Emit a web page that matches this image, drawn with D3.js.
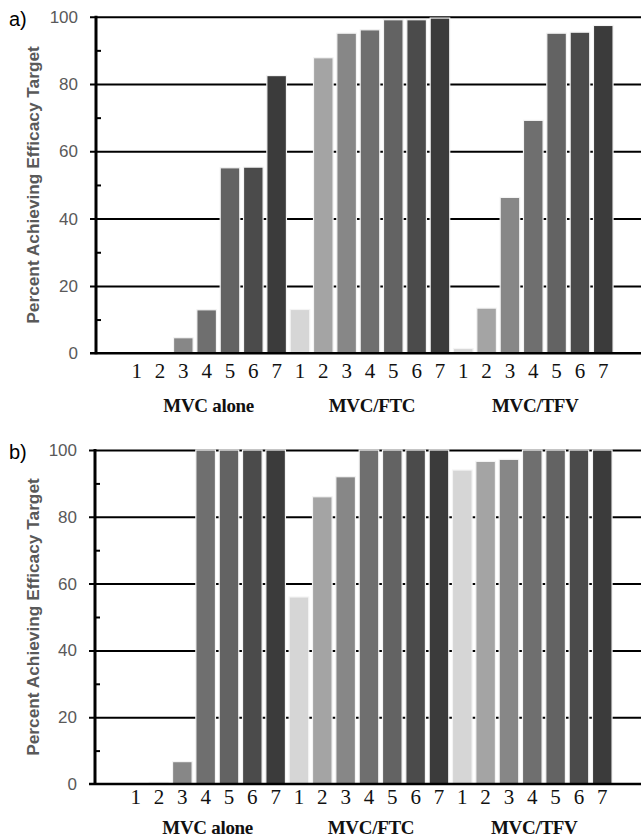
<!DOCTYPE html>
<html>
<head>
<meta charset="utf-8">
<script src="https://cdn.jsdelivr.net/npm/d3@7"></script>
<style>
  body { margin: 0; background: #fff; }
  svg { display: block; }
</style>
</head>
<body>
<svg id="chart" width="641" height="837"></svg>
<script>
// categories
const groups = ["MVC alone", "MVC/FTC", "MVC/TFV"];
const doses = ["1", "2", "3", "4", "5", "6", "7"];
const yMajor = [0, 20, 40, 60, 80, 100];
const yMinor = [10, 30, 50, 70, 90];

// panel a) values (percent)
const aAlone = [0, 0, 4.6, 12.9, 55.1, 55.3, 82.5];
const aFTC = [13.0, 87.8, 95.1, 96.1, 99.1, 99.1, 99.6];
const aTFV = [1.4, 13.4, 46.3, 69.2, 95.1, 95.4, 97.4];

// panel b) values (percent)
const bAlone = [0, 0.5, 6.7, 100, 100, 100, 100];
const bFTC = [56.0, 86.0, 92.0, 100, 100, 100, 100];
const bTFV = [94.0, 96.6, 97.2, 100, 100, 100, 100];

const svg = d3.select("#chart");
const W = 641;

// gray shade per dose level
const shade = d3.scaleOrdinal()
  .domain(doses)
  .range(["#d6d6d6", "#a4a4a4", "#878787", "#6f6f6f", "#636363", "#4b4b4b", "#3b3b3b"]);

function panel(opt) {
  const { label, series, top, bottom, axisX, numOff, grpOff } = opt;

  // one band per bar, groups side by side
  const rows = [];
  groups.forEach((g, gi) => {
    doses.forEach((d, di) => rows.push({ key: g + "|" + d, group: g, dose: d, value: series[gi][di] }));
  });

  const x = d3.scaleBand()
    .domain(rows.map(r => r.key))
    .range([axisX + 29, axisX + 29 + 21 * 23.33])
    .paddingInner(0.16)
    .paddingOuter(0.08);

  const y = d3.scaleLinear().domain([0, 100]).range([bottom, top]);

  const g = svg.append("g");

  // gridlines (also give the outward major ticks)
  g.append("g")
    .attr("transform", `translate(${axisX - 6},0)`)
    .call(d3.axisLeft(y).tickValues(yMajor.slice(1)).tickSize(-(W - axisX + 6)).tickFormat(""))
    .call(s => s.select(".domain").remove())
    .call(s => s.selectAll("line").attr("stroke", "#000").attr("stroke-width", 2));

  // bars
  g.append("g").selectAll("rect").data(rows).join("rect")
    .attr("x", d => x(d.key))
    .attr("y", d => y(d.value))
    .attr("width", x.bandwidth())
    .attr("height", d => y(0) - y(d.value))
    .attr("fill", d => shade(d.dose))
    .attr("stroke", "#f4f4f4")
    .attr("stroke-width", 1.2);

  // baseline
  g.append("line")
    .attr("x1", axisX - 6).attr("x2", W)
    .attr("y1", y(0)).attr("y2", y(0))
    .attr("stroke", "#000").attr("stroke-width", 2.5);

  // y axis line and minor ticks
  g.append("g")
    .attr("transform", `translate(${axisX},0)`)
    .call(d3.axisRight(y).tickValues(yMinor).tickSize(5).tickFormat(""))
    .call(s => s.select(".domain").remove())
    .call(s => s.selectAll("line").attr("stroke", "#000").attr("stroke-width", 2));
  g.append("line")
    .attr("x1", axisX).attr("x2", axisX)
    .attr("y1", y(0) + 1).attr("y2", y(100) - 1)
    .attr("stroke", "#000").attr("stroke-width", 3);

  // y tick labels
  g.append("g")
    .attr("transform", `translate(${axisX},0)`)
    .call(d3.axisLeft(y).tickValues(yMajor).tickSize(0).tickPadding(18))
    .call(s => s.select(".domain").remove())
    .call(s => s.selectAll("text")
      .attr("font-family", "'Liberation Sans', Arial, sans-serif")
      .attr("font-size", 17)
      .attr("fill", "#595959"));

  // dose numbers under bars
  g.append("g")
    .attr("transform", `translate(0,${y(0) + numOff})`)
    .call(d3.axisBottom(x).tickSize(0).tickPadding(0).tickFormat(k => k.split("|")[1]))
    .call(s => s.select(".domain").remove())
    .call(s => s.selectAll("text")
      .attr("dy", "0.35em")
      .attr("font-family", "'Liberation Serif', 'Times New Roman', serif")
      .attr("font-size", 21)
      .attr("fill", "#111"));

  // group names
  g.append("g").selectAll("text").data(groups).join("text")
    .attr("x", gName => {
      const keys = rows.filter(r => r.group === gName).map(r => r.key);
      return (x(keys[0]) + x(keys[keys.length - 1]) + x.bandwidth()) / 2 + 2;
    })
    .attr("y", y(0) + grpOff)
    .attr("dy", "0.35em")
    .attr("text-anchor", "middle")
    .attr("font-family", "'Liberation Serif', 'Times New Roman', serif")
    .attr("font-weight", "bold")
    .attr("font-size", 19)
    .attr("letter-spacing", "-0.3")
    .attr("fill", "#111")
    .text(d => d);

  // y axis title
  g.append("text")
    .attr("transform", `translate(33,${(top + bottom) / 2}) rotate(-90)`)
    .attr("dy", "0.35em")
    .attr("text-anchor", "middle")
    .attr("font-family", "'Liberation Sans', Arial, sans-serif")
    .attr("font-weight", "bold")
    .attr("font-size", 17.3)
    .attr("fill", "#595959")
    .text("Percent Achieving Efficacy Target");

  // panel letter
  g.append("text")
    .attr("x", 9)
    .attr("y", top + 2)
    .attr("dy", "0.35em")
    .attr("font-family", "'Liberation Sans', Arial, sans-serif")
    .attr("font-size", 20)
    .attr("fill", "#000")
    .text(label);
}

panel({ label: "a)", series: [aAlone, aFTC, aTFV], top: 16.7, bottom: 353.2, axisX: 96, numOff: 17, grpOff: 52 });
panel({ label: "b)", series: [bAlone, bFTC, bTFV], top: 450, bottom: 784, axisX: 95, numOff: 13, grpOff: 43 });
</script>
</body>
</html>
